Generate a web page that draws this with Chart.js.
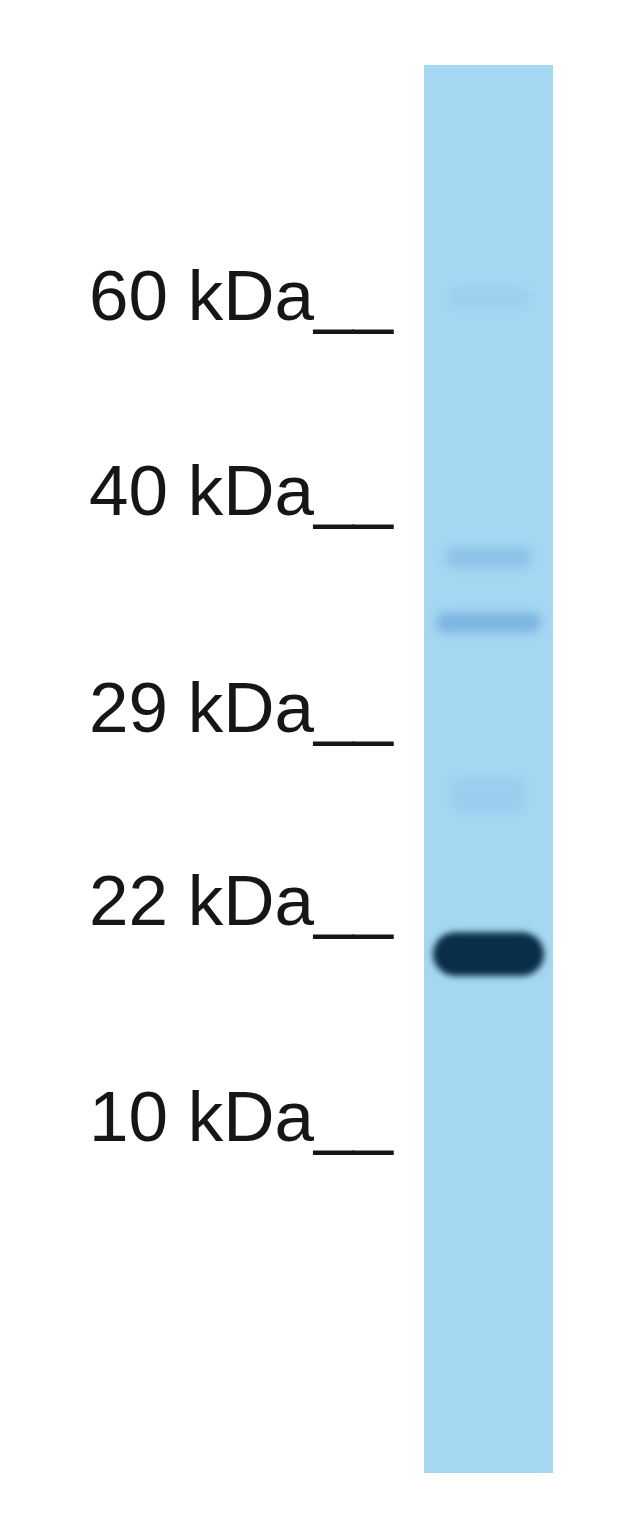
<!DOCTYPE html>
<html>
<head>
<meta charset="utf-8">
<script src="https://cdn.jsdelivr.net/npm/chart.js@4.4.1/dist/chart.umd.min.js"></script>
<style>
    html, body { margin: 0; padding: 0; background: #ffffff; }
    #wrap { width: 640px; height: 1539px; position: relative; }
</style>
</head>
<body>
<div id="wrap"><canvas id="blot"></canvas></div>
<script>
// Migration position along the lane, in % of lane length (0 = well, 100 = bottom)
const markerLabels = ['60 kDa__', '40 kDa__', '29 kDa__', '22 kDa__', '10 kDa__'];
const markerPos = [18.9, 32.8, 48.2, 61.9, 77.2];

const laneNames = ['Lane 1'];
const laneSpan = [0, 100];

// Bands seen in the lane: start / end position (%), intensity (0..1), width share of lane
const bandNames = ['~62 kDa', '~36 kDa', '~33 kDa', '~26 kDa', '~20 kDa'];
const bandStart = [15.9, 34.3, 38.9, 50.6, 61.6];
const bandEnd = [17.1, 35.7, 40.3, 53.0, 64.7];
const bandIntensity = [0.06, 0.18, 0.32, 0.08, 1.0];
const bandWidth = [0.62, 0.66, 0.8, 0.55, 0.86];

// Blur plugin so the bands look like chemiluminescent signal, not boxes
const blurPlugin = {
    id: 'bandBlur',
    beforeDatasetDraw(chart, args) {
        const ds = chart.data.datasets[args.index];
        if (ds.blur) {
            chart.ctx.save();
            chart.ctx.filter = `blur(${ds.blur}px)`;
        }
    },
    afterDatasetDraw(chart, args) {
        const ds = chart.data.datasets[args.index];
        if (ds.blur) chart.ctx.restore();
    }
};

function bandColor(i) {
    if (bandIntensity[i] > 0.9) return 'rgb(8, 46, 72)';
    return `rgba(40, 110, 190, ${bandIntensity[i]})`;
}

const datasets = bandNames.map((name, i) => ({
    label: name,
    data: [[bandStart[i], bandEnd[i]]],
    backgroundColor: bandColor(i),
    borderWidth: 0,
    borderRadius: bandIntensity[i] > 0.9 ? 22 : 8,
    borderSkipped: false,
    barPercentage: bandWidth[i],
    categoryPercentage: 1,
    grouped: false,
    blur: bandIntensity[i] > 0.9 ? 3 : 5,
    order: 0
}));

datasets.push({
    label: 'lane',
    data: [laneSpan],
    backgroundColor: 'rgb(165, 214, 242)',
    borderWidth: 0,
    barPercentage: 1,
    categoryPercentage: 1,
    grouped: false,
    order: 10
});

const canvas = document.getElementById('blot');
canvas.width = 640;
canvas.height = 1539;

new Chart(canvas, {
    type: 'bar',
    data: { labels: laneNames, datasets: datasets },
    plugins: [blurPlugin],
    options: {
        responsive: false,
        animation: false,
        layout: { padding: { top: 65, bottom: 66, right: 87, left: 0 } },
        plugins: {
            legend: { display: false },
            tooltip: { enabled: false }
        },
        scales: {
            x: { display: false },
            y: {
                reverse: true,
                min: 0,
                max: 100,
                grid: { display: false, drawTicks: false },
                border: { display: false },
                afterFit: (scale) => {
                    scale.width = 424;
                    scale.paddingTop = 0;
                    scale.paddingBottom = 0;
                },
                afterBuildTicks: (scale) => {
                    scale.ticks = markerPos.map(v => ({ value: v }));
                },
                ticks: {
                    autoSkip: false,
                    padding: 31,
                    labelOffset: -31,
                    color: '#161616',
                    font: { family: "'Liberation Sans', Arial, Helvetica, sans-serif", size: 71 },
                    callback: (value, idx) => markerLabels[idx]
                }
            }
        }
    }
});
</script>
</body>
</html>
